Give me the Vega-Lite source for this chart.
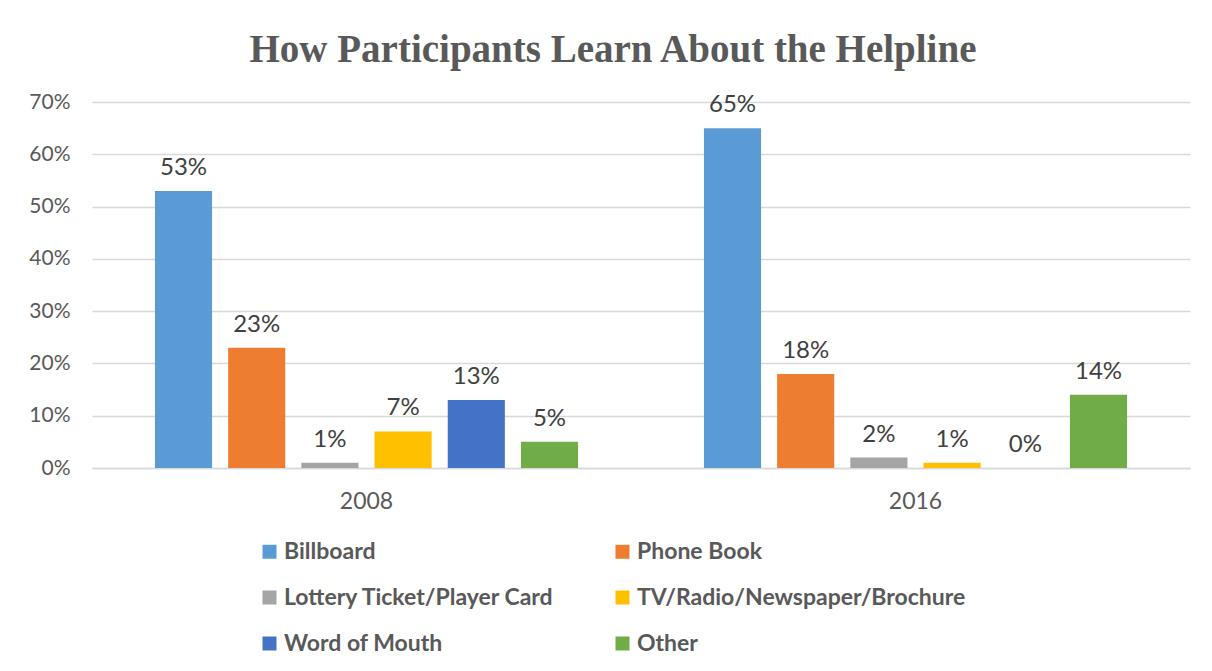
{
  "$schema": "https://vega.github.io/schema/vega-lite/v6.json",
  "width": 1098,
  "height": 366,
  "autosize": {"type": "none"},
  "padding": {"left": 92, "top": 102, "right": 22, "bottom": 203},
  "background": "white",
  "title": {
    "text": "How Participants Learn About the Helpline",
    "font": "Liberation Serif",
    "fontSize": 39,
    "fontWeight": "bold",
    "color": "#595959",
    "anchor": "middle",
    "frame": "group",
    "dx": -28,
    "offset": -10,
    "baseline": "alphabetic"
  },
  "data": {
    "values": [
      {"year": "2008", "source": "Billboard", "value": 0.53},
      {"year": "2008", "source": "Phone Book", "value": 0.23},
      {"year": "2008", "source": "Lottery Ticket/Player Card", "value": 0.01},
      {"year": "2008", "source": "TV/Radio/Newspaper/Brochure", "value": 0.07},
      {"year": "2008", "source": "Word of Mouth", "value": 0.13},
      {"year": "2008", "source": "Other", "value": 0.05},
      {"year": "2016", "source": "Billboard", "value": 0.65},
      {"year": "2016", "source": "Phone Book", "value": 0.18},
      {"year": "2016", "source": "Lottery Ticket/Player Card", "value": 0.02},
      {"year": "2016", "source": "TV/Radio/Newspaper/Brochure", "value": 0.01},
      {"year": "2016", "source": "Word of Mouth", "value": 0.0},
      {"year": "2016", "source": "Other", "value": 0.14}
    ]
  },
  "encoding": {
    "x": {
      "field": "year",
      "type": "nominal",
      "scale": {"paddingInner": 0.2, "paddingOuter": 0.1},
      "axis": {
        "title": null,
        "labelAngle": 0,
        "ticks": false,
        "labelPadding": 22,
        "labelFont": "Lato",
        "labelFontSize": 23,
        "labelColor": "#595959",
        "domainColor": "#d9d9d9",
        "domainWidth": 1.5,
        "grid": false
      }
    },
    "xOffset": {
      "field": "source",
      "type": "nominal",
      "sort": ["Billboard", "Phone Book", "Lottery Ticket/Player Card", "TV/Radio/Newspaper/Brochure", "Word of Mouth", "Other"],
      "scale": {"paddingInner": 0.22, "paddingOuter": 0.11}
    },
    "y": {
      "field": "value",
      "type": "quantitative",
      "scale": {"domain": [0, 0.7]},
      "axis": {
        "title": null,
        "format": ".0%",
        "values": [0, 0.1, 0.2, 0.3, 0.4, 0.5, 0.6, 0.7],
        "labelOverlap": false,
        "ticks": false,
        "domain": false,
        "labelPadding": 22,
        "labelFont": "Lato",
        "labelFontSize": 21,
        "labelColor": "#595959",
        "gridColor": "#d9d9d9",
        "gridWidth": 1.5
      }
    }
  },
  "layer": [
    {
      "mark": {"type": "bar"},
      "encoding": {
        "color": {
          "field": "source",
          "type": "nominal",
          "sort": ["Billboard", "Phone Book", "Lottery Ticket/Player Card", "TV/Radio/Newspaper/Brochure", "Word of Mouth", "Other"],
          "scale": {
            "domain": ["Billboard", "Phone Book", "Lottery Ticket/Player Card", "TV/Radio/Newspaper/Brochure", "Word of Mouth", "Other"],
            "range": ["#5B9BD5", "#ED7D31", "#A5A5A5", "#FFC000", "#4472C4", "#70AD47"]
          },
          "legend": {
            "title": null,
            "orient": "none",
            "legendX": 166,
            "legendY": 438,
            "direction": "horizontal",
            "columns": 2,
            "columnPadding": 56,
            "rowPadding": 22,
            "symbolType": "square",
            "symbolSize": 196,
            "symbolStrokeWidth": 0,
            "labelFont": "Lato",
            "labelFontSize": 23,
            "labelFontWeight": "bold",
            "labelColor": "#595959",
            "labelOffset": 3,
            "labelLimit": 500
          }
        }
      }
    },
    {
      "mark": {
        "type": "text",
        "baseline": "alphabetic",
        "dy": -16,
        "font": "Lato",
        "fontSize": 24,
        "color": "#404040"
      },
      "encoding": {
        "text": {"field": "value", "type": "quantitative", "format": ".0%"}
      }
    }
  ],
  "config": {
    "view": {"stroke": null}
  }
}
